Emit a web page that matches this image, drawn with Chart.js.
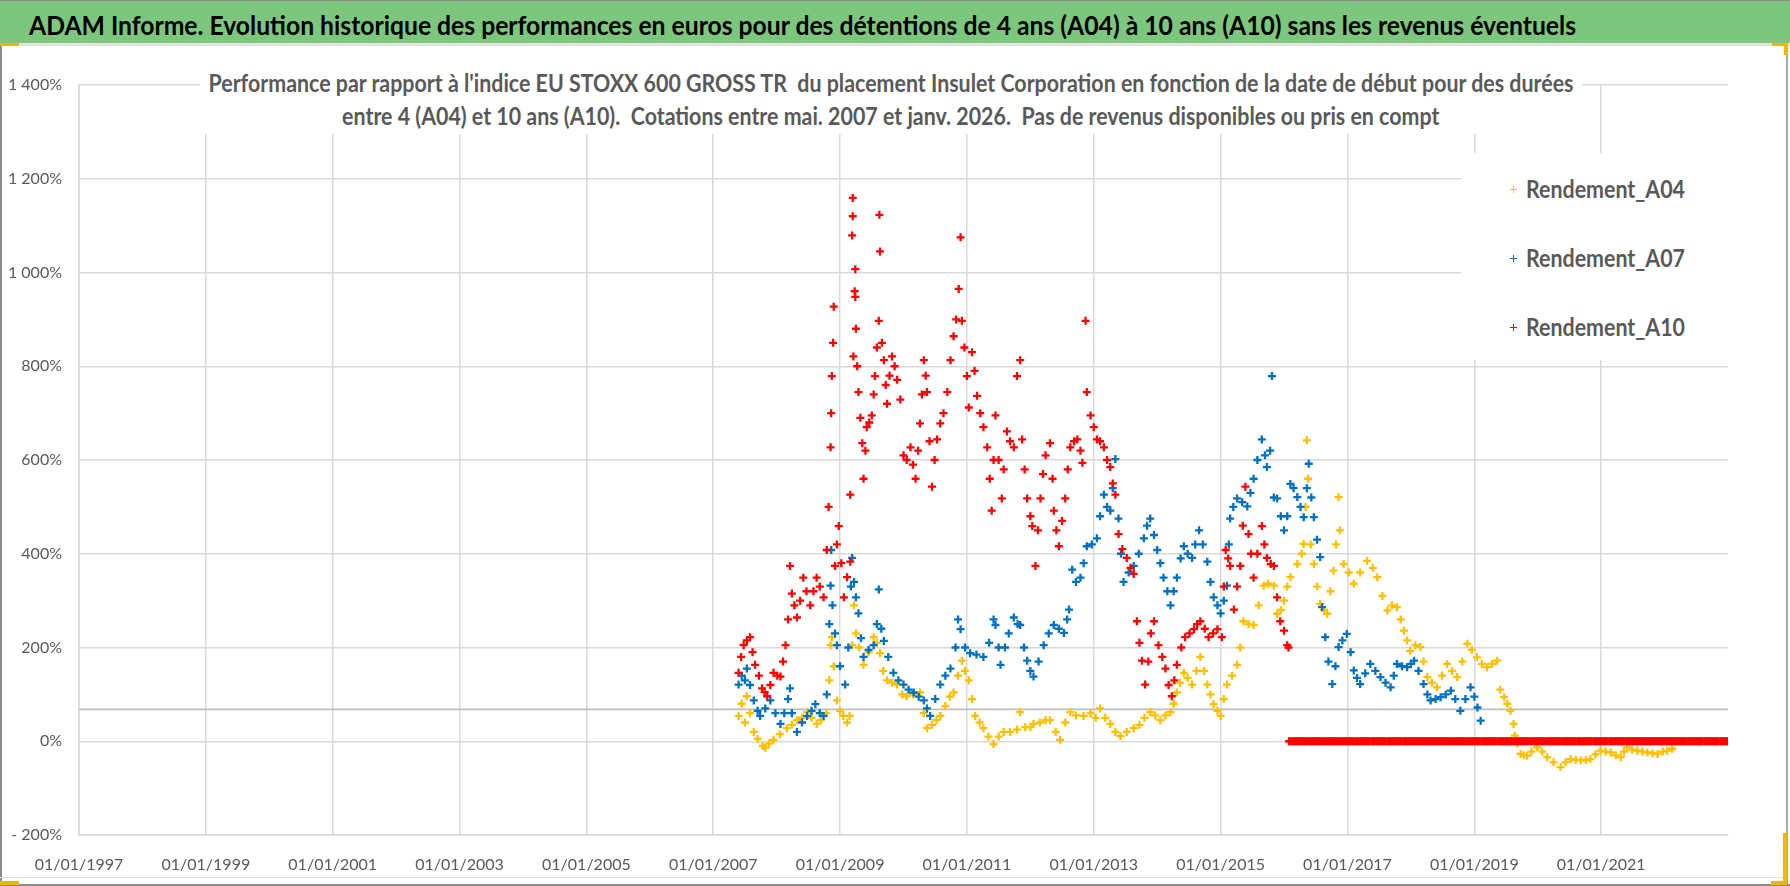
<!DOCTYPE html>
<html>
<head>
<meta charset="utf-8">
<script src="https://cdn.jsdelivr.net/npm/chart.js@4.4.1/dist/chart.umd.min.js"></script>
<style>
html,body{margin:0;padding:0;background:#fff;}
#page{position:relative;width:1790px;height:886px;overflow:hidden;background:#fff;font-family:Lato,"Open Sans",sans-serif;}
#chart{position:absolute;left:0;top:0;z-index:0;}
#header{position:absolute;left:0;top:0;width:1790px;height:43px;background:#7DC67D;border-top:1px solid #8c8c8c;box-sizing:border-box;z-index:3;}
#headerText{position:absolute;left:29px;top:2px;height:43px;line-height:43px;white-space:nowrap;font-weight:bold;font-size:27px;color:#000;transform-origin:left center;}
#sep{position:absolute;left:0;top:43px;width:1790px;height:3px;background:#e4e4e4;z-index:3;}
#frameL{position:absolute;left:0;top:43px;width:2px;height:843px;background:#8c8c8c;z-index:3;}
#frameR{position:absolute;left:1786px;top:43px;width:2px;height:843px;background:#a6a6a6;z-index:3;}
#frameB{position:absolute;left:0;top:884px;width:1790px;height:2px;background:#8c8c8c;z-index:3;}
#frameB2{position:absolute;left:0;top:877px;width:1786px;height:1px;background:#e0e0e0;z-index:3;}
.hdl{position:absolute;background:#F2B600;z-index:4;}
#subtitle{position:absolute;left:200px;top:47px;width:1382px;height:87px;background:#fff;z-index:2;}
.subline{position:absolute;white-space:nowrap;font-weight:bold;font-size:24px;height:30px;line-height:30px;color:#595959;transform-origin:center center;}
#legend{position:absolute;left:1461px;top:153px;width:300px;height:207px;background:#fff;z-index:2;}
.legItem{position:absolute;left:0;height:30px;width:300px;}
.legMark{position:absolute;left:49px;top:12px;width:7px;height:7px;}
.legMark:before{content:"";position:absolute;left:0;top:2.75px;width:7px;height:1.5px;background:var(--c);}
.legMark:after{content:"";position:absolute;left:2.75px;top:0;width:1.5px;height:7px;background:var(--c);}
.legText{position:absolute;left:65px;top:0;height:30px;line-height:30px;white-space:nowrap;font-weight:bold;font-size:24px;color:#595959;transform-origin:left center;}
</style>
</head>
<body>
<div id="page">
  <canvas id="chart" width="1790" height="886"></canvas>
  <div id="header"><span id="headerText">ADAM Informe. Evolution historique des performances en euros pour des détentions de 4 ans (A04) à 10 ans (A10) sans les revenus éventuels</span></div>
  <div id="sep"></div>
  <div id="frameL"></div><div id="frameR"></div><div id="frameB2"></div><div id="frameB"></div>
  <div class="hdl" style="left:0;top:43px;width:19px;height:3px"></div>
  <div class="hdl" style="left:1772px;top:43px;width:16px;height:3px"></div>
  <div class="hdl" style="left:1784px;top:43px;width:4px;height:12px"></div>
  <div class="hdl" style="left:0;top:881px;width:19px;height:4px"></div>
  <div class="hdl" style="left:1783px;top:833px;width:4px;height:52px"></div>
  <div class="hdl" style="left:1771px;top:881px;width:16px;height:4px"></div>
  <div id="subtitle">
    <span class="subline" id="sub1">Performance par rapport à l'indice EU STOXX 600 GROSS TR&nbsp; du placement Insulet Corporation en fonction de la date de début pour des durées</span>
    <span class="subline" id="sub2">entre 4 (A04) et 10 ans (A10).&nbsp; Cotations entre mai. 2007 et janv. 2026.&nbsp; Pas de revenus disponibles ou pris en compt</span>
  </div>
  <div id="legend"></div>
</div>
<script>
// ---------- Axis definitions ----------
const X_MIN = 1997;
const X_MAX = 2023;
const X_TICK_YEARS = [1997, 1999, 2001, 2003, 2005, 2007, 2009, 2011, 2013, 2015, 2017, 2019, 2021];
const X_TICK_LABELS = ['01/01/1997', '01/01/1999', '01/01/2001', '01/01/2003', '01/01/2005', '01/01/2007', '01/01/2009', '01/01/2011', '01/01/2013', '01/01/2015', '01/01/2017', '01/01/2019', '01/01/2021'];
const Y_TICK_VALUES = [-200, 0, 200, 400, 600, 800, 1000, 1200, 1400];
const Y_TICK_LABELS = ['- 200%', '0%', '200%', '400%', '600%', '800%', '1 000%', '1 200%', '1 400%'];

// ---------- Series ----------
const SERIES_NAMES = ['Rendement_A04', 'Rendement_A07', 'Rendement_A10'];
const SERIES_COLORS = ['#FFC000', '#0070C0', '#FF0000'];

const A04_DATES = [2007.40,2007.45,2007.50,2007.53,2007.58,2007.64,2007.70,2007.78,2007.82,2007.88,2007.95,2008.05,2008.16,2008.24,2008.32,2008.40,2008.48,2008.55,2008.63,2008.70,2008.78,2008.83,2008.85,2008.87,2008.90,2008.95,2009.00,2009.05,2009.11,2009.15,2009.19,2009.22,2009.25,2009.30,2009.37,2009.45,2009.53,2009.58,2009.63,2009.68,2009.74,2009.82,2009.90,2009.98,2010.05,2010.15,2010.26,2010.32,2010.37,2010.45,2010.52,2010.58,2010.66,2010.73,2010.79,2010.86,2010.92,2010.97,2011.03,2011.08,2011.13,2011.20,2011.26,2011.34,2011.42,2011.50,2011.58,2011.68,2011.79,2011.84,2011.92,2012.00,2012.05,2012.15,2012.24,2012.31,2012.40,2012.47,2012.55,2012.63,2012.72,2012.84,2012.95,2013.03,2013.10,2013.18,2013.26,2013.34,2013.42,2013.52,2013.63,2013.72,2013.80,2013.89,2013.97,2014.05,2014.13,2014.21,2014.26,2014.31,2014.36,2014.42,2014.48,2014.55,2014.62,2014.68,2014.74,2014.79,2014.84,2014.89,2014.95,2015.00,2015.05,2015.10,2015.18,2015.26,2015.31,2015.36,2015.44,2015.52,2015.60,2015.68,2015.75,2015.84,2015.89,2015.95,2016.00,2016.05,2016.10,2016.21,2016.28,2016.31,2016.34,2016.36,2016.38,2016.42,2016.47,2016.52,2016.57,2016.63,2016.68,2016.73,2016.78,2016.82,2016.86,2016.88,2016.94,2017.02,2017.10,2017.20,2017.31,2017.40,2017.47,2017.55,2017.63,2017.70,2017.78,2017.84,2017.89,2017.94,2017.99,2018.07,2018.15,2018.20,2018.26,2018.33,2018.41,2018.49,2018.57,2018.65,2018.73,2018.81,2018.89,2018.96,2019.04,2019.12,2019.20,2019.28,2019.36,2019.41,2019.47,2019.52,2019.57,2019.62,2019.64,2019.68,2019.73,2019.78,2019.83,2019.90,2019.99,2020.07,2020.15,2020.25,2020.36,2020.44,2020.52,2020.60,2020.68,2020.76,2020.83,2020.91,2020.99,2021.07,2021.15,2021.23,2021.31,2021.36,2021.41,2021.49,2021.57,2021.65,2021.73,2021.81,2021.89,2021.97,2022.04,2022.12];
const A04_VALUES = [54,80,40,96,60,20,5,-10,-14,-5,3,15,28,35,45,50,62,50,37,45,60,130,205,222,160,87,65,54,40,54,205,290,230,200,163,190,222,210,188,150,130,125,121,100,96,100,104,60,28,35,45,54,75,95,104,140,172,150,130,90,54,40,28,10,-6,10,20,20,25,62,30,30,37,40,45,45,20,3,40,62,55,54,60,50,70,50,37,20,11,20,28,35,50,62,55,45,55,62,80,104,125,146,135,121,150,180,150,121,100,79,65,54,90,121,140,163,200,256,250,248,290,332,336,332,272,280,300,330,350,378,400,421,500,642,560,420,378,330,293,280,272,320,364,420,521,450,378,360,336,360,385,370,350,310,279,290,286,260,236,215,193,205,201,170,137,125,115,140,165,150,137,170,208,195,179,165,158,165,172,110,94,80,65,37,12,-5,-27,-30,-31,-22,-13,-22,-34,-45,-55,-45,-38,-40,-41,-40,-38,-28,-20,-22,-24,-30,-34,-22,-13,-18,-20,-22,-24,-26,-27,-22,-20,-16];

const A07_DATES = [2007.40,2007.45,2007.50,2007.53,2007.58,2007.64,2007.70,2007.74,2007.82,2007.90,2007.98,2008.06,2008.12,2008.18,2008.21,2008.24,2008.32,2008.40,2008.48,2008.55,2008.61,2008.68,2008.74,2008.79,2008.83,2008.85,2008.86,2008.88,2008.92,2008.95,2009.00,2009.08,2009.13,2009.17,2009.19,2009.22,2009.25,2009.29,2009.33,2009.37,2009.45,2009.53,2009.58,2009.61,2009.65,2009.69,2009.76,2009.84,2009.92,2010.00,2010.08,2010.16,2010.24,2010.32,2010.37,2010.42,2010.50,2010.58,2010.66,2010.74,2010.82,2010.86,2010.90,2010.97,2011.05,2011.15,2011.26,2011.35,2011.42,2011.45,2011.50,2011.53,2011.60,2011.66,2011.74,2011.80,2011.84,2011.90,2011.95,2012.00,2012.05,2012.13,2012.21,2012.29,2012.37,2012.45,2012.53,2012.58,2012.61,2012.66,2012.72,2012.79,2012.84,2012.89,2012.97,2013.05,2013.10,2013.16,2013.21,2013.26,2013.30,2013.34,2013.39,2013.43,2013.47,2013.55,2013.63,2013.71,2013.79,2013.84,2013.89,2013.95,2014.00,2014.05,2014.10,2014.16,2014.21,2014.26,2014.31,2014.37,2014.42,2014.48,2014.55,2014.60,2014.66,2014.72,2014.79,2014.84,2014.89,2014.95,2015.00,2015.05,2015.10,2015.13,2015.15,2015.20,2015.26,2015.34,2015.42,2015.47,2015.52,2015.58,2015.65,2015.70,2015.73,2015.78,2015.81,2015.84,2015.89,2015.95,2016.00,2016.05,2016.10,2016.15,2016.21,2016.26,2016.31,2016.36,2016.39,2016.43,2016.47,2016.52,2016.57,2016.60,2016.65,2016.70,2016.76,2016.81,2016.86,2016.92,2016.99,2017.05,2017.10,2017.15,2017.20,2017.28,2017.36,2017.44,2017.52,2017.60,2017.68,2017.73,2017.78,2017.86,2017.94,2018.00,2018.05,2018.12,2018.20,2018.26,2018.31,2018.39,2018.47,2018.55,2018.63,2018.70,2018.78,2018.86,2018.94,2019.00,2019.05,2019.10];
const A07_VALUES = [121,140,130,155,120,87,65,54,70,87,60,37,60,90,113,60,20,40,54,65,79,60,54,100,250,332,408,290,230,205,160,121,200,330,391,340,307,273,220,180,195,205,250,324,240,214,180,146,130,121,110,104,95,87,70,54,90,121,140,155,200,260,239,200,188,185,180,210,260,248,200,163,200,230,264,250,248,200,172,150,138,170,205,230,248,240,231,260,281,366,340,349,380,416,420,433,480,526,500,492,540,602,475,400,340,360,374,400,433,460,475,440,408,380,349,320,290,320,349,390,416,400,391,420,450,420,383,340,307,290,273,300,332,420,475,500,518,510,501,530,560,600,644,610,585,620,779,520,518,480,450,480,549,540,521,500,478,540,592,520,478,430,393,286,222,170,122,160,201,215,229,190,151,135,122,145,165,150,137,125,115,140,165,160,158,165,172,150,122,100,87,90,94,100,108,90,65,90,115,95,72,44];

const A10_DATES = [2007.40,2007.44,2007.48,2007.53,2007.58,2007.62,2007.66,2007.72,2007.77,2007.81,2007.85,2007.90,2007.95,2008.01,2008.06,2008.10,2008.14,2008.18,2008.21,2008.24,2008.28,2008.32,2008.37,2008.42,2008.47,2008.53,2008.58,2008.63,2008.68,2008.74,2008.79,2008.82,2008.85,2008.86,2008.87,2008.89,2008.90,2008.92,2008.95,2008.98,2009.02,2009.06,2009.11,2009.16,2009.16,2009.19,2009.20,2009.20,2009.21,2009.23,2009.24,2009.24,2009.25,2009.27,2009.29,2009.32,2009.35,2009.37,2009.40,2009.42,2009.46,2009.50,2009.53,2009.55,2009.58,2009.61,2009.62,2009.63,2009.66,2009.69,2009.72,2009.74,2009.78,2009.82,2009.86,2009.90,2009.95,2010.00,2010.05,2010.11,2010.15,2010.19,2010.23,2010.26,2010.29,2010.32,2010.35,2010.37,2010.41,2010.45,2010.49,2010.53,2010.58,2010.63,2010.69,2010.74,2010.79,2010.83,2010.87,2010.90,2010.92,2010.96,2011.00,2011.03,2011.08,2011.12,2011.16,2011.21,2011.26,2011.32,2011.36,2011.39,2011.42,2011.45,2011.50,2011.55,2011.58,2011.63,2011.68,2011.74,2011.79,2011.84,2011.87,2011.91,2011.95,2012.00,2012.03,2012.08,2012.12,2012.16,2012.20,2012.24,2012.31,2012.35,2012.37,2012.41,2012.45,2012.50,2012.55,2012.59,2012.63,2012.69,2012.74,2012.79,2012.82,2012.87,2012.89,2012.95,2013.00,2013.05,2013.10,2013.16,2013.21,2013.26,2013.30,2013.34,2013.39,2013.45,2013.52,2013.58,2013.63,2013.68,2013.72,2013.76,2013.81,2013.86,2013.90,2013.95,2014.02,2014.08,2014.13,2014.18,2014.23,2014.27,2014.31,2014.38,2014.44,2014.51,2014.58,2014.63,2014.68,2014.75,2014.81,2014.88,2014.95,2015.02,2015.05,2015.08,2015.12,2015.15,2015.21,2015.26,2015.31,2015.35,2015.39,2015.44,2015.48,2015.52,2015.58,2015.65,2015.69,2015.73,2015.79,2015.84,2015.89,2015.94,2016.00,2016.05,2016.07,
2016.08,2016.10,2016.13,2016.15,2016.17,2016.19,2016.21,2016.23,2016.25,2016.27,2016.29,2016.31,2016.33,2016.35,2016.38,2016.40,2016.42,2016.44,2016.46,2016.48,2016.50,2016.52,2016.54,2016.56,2016.58,2016.60,2016.63,2016.65,2016.67,2016.69,2016.71,2016.73,2016.75,2016.77,2016.79,2016.81,2016.83,2016.85,2016.88,2016.90,2016.92,2016.94,2016.96,2016.98,
2017.00,2017.04,2017.08,2017.13,2017.17,2017.21,2017.25,2017.29,2017.33,2017.38,2017.42,2017.46,2017.50,2017.54,2017.58,2017.63,2017.67,2017.71,2017.75,2017.79,2017.83,2017.88,2017.92,2017.96,
2017.02,2017.06,2017.10,2017.15,2017.19,2017.23,2017.27,2017.31,2017.35,2017.40,2017.44,2017.48,2017.52,2017.56,2017.60,2017.65,2017.69,2017.73,2017.77,2017.81,2017.85,2017.90,2017.94,2017.98,
2018.00,2018.04,2018.08,2018.13,2018.17,2018.21,2018.25,2018.29,2018.33,2018.38,2018.42,2018.46,2018.50,2018.54,2018.58,2018.63,2018.67,2018.71,2018.75,2018.79,2018.83,2018.88,2018.92,2018.96,
2018.02,2018.06,2018.10,2018.15,2018.19,2018.23,2018.27,2018.31,2018.35,2018.40,2018.44,2018.48,2018.52,2018.56,2018.60,2018.65,2018.69,2018.73,2018.77,2018.81,2018.85,2018.90,2018.94,2018.98,
2019.00,2019.04,2019.08,2019.13,2019.17,2019.21,2019.25,2019.29,2019.33,2019.38,2019.42,2019.46,2019.50,2019.54,2019.58,2019.63,2019.67,2019.71,2019.75,2019.79,2019.83,2019.88,2019.92,2019.96,
2019.02,2019.06,2019.10,2019.15,2019.19,2019.23,2019.27,2019.31,2019.35,2019.40,2019.44,2019.48,2019.52,2019.56,2019.60,2019.65,2019.69,2019.73,2019.77,2019.81,2019.85,2019.90,2019.94,2019.98,
2020.00,2020.04,2020.08,2020.13,2020.17,2020.21,2020.25,2020.29,2020.33,2020.38,2020.42,2020.46,2020.50,2020.54,2020.58,2020.63,2020.67,2020.71,2020.75,2020.79,2020.83,2020.88,2020.92,2020.96,
2020.02,2020.06,2020.10,2020.15,2020.19,2020.23,2020.27,2020.31,2020.35,2020.40,2020.44,2020.48,2020.52,2020.56,2020.60,2020.65,2020.69,2020.73,2020.77,2020.81,2020.85,2020.90,2020.94,2020.98,
2021.00,2021.04,2021.08,2021.13,2021.17,2021.21,2021.25,2021.29,2021.33,2021.38,2021.42,2021.46,2021.50,2021.54,2021.58,2021.63,2021.67,2021.71,2021.75,2021.79,2021.83,2021.88,2021.92,2021.96,
2021.02,2021.06,2021.10,2021.15,2021.19,2021.23,2021.27,2021.31,2021.35,2021.40,2021.44,2021.48,2021.52,2021.56,2021.60,2021.65,2021.69,2021.73,2021.77,2021.81,2021.85,2021.90,2021.94,2021.98,
2022.00,2022.04,2022.08,2022.13,2022.17,2022.21,2022.25,2022.29,2022.33,2022.38,2022.42,2022.46,2022.50,2022.54,2022.58,2022.63,2022.67,2022.71,2022.75,2022.79,2022.83,2022.88,2022.92,2022.96,
2022.02,2022.06,2022.10,2022.15,2022.19,2022.23,2022.27,2022.31,2022.35,2022.40,2022.44,2022.48,2022.52,2022.56,2022.60,2022.65,2022.69,2022.73,2022.77,2022.81,2022.85,2022.90,2022.94,2022.98,
2023.00];
const A10_VALUES = [146,180,205,215,222,190,163,140,113,105,96,120,146,140,138,170,205,260,374,315,290,264,300,349,320,290,320,349,330,307,408,500,627,700,779,850,927,374,420,459,380,307,350,383,526,1079,1120,1159,821,960,1007,948,880,800,745,690,636,560,620,670,680,695,740,779,840,897,1123,1045,850,813,760,720,780,821,800,771,729,610,600,627,590,560,620,678,740,813,780,745,640,543,600,644,678,700,745,813,864,900,965,1075,897,840,779,712,830,790,737,700,670,627,560,492,600,695,600,518,580,661,640,627,779,813,644,580,518,480,459,374,450,518,570,610,636,560,492,450,416,470,518,580,627,640,644,620,594,897,745,695,670,644,640,627,600,585,550,526,442,410,391,370,357,256,210,172,121,170,230,256,205,180,155,120,96,130,163,200,222,230,239,250,256,240,222,230,239,222,330,408,390,374,281,330,374,460,543,442,400,349,400,459,420,391,378,374,307,256,236,205,200,
0,0,0,0,0,0,0,0,0,0,0,0,0,0,0,0,0,0,0,0,0,0,0,0,0,0,0,0,0,0,0,0,0,0,0,0,0,0,0,0,0,0,0,0,
0,0,0,0,0,0,0,0,0,0,0,0,0,0,0,0,0,0,0,0,0,0,0,0,
0,0,0,0,0,0,0,0,0,0,0,0,0,0,0,0,0,0,0,0,0,0,0,0,
0,0,0,0,0,0,0,0,0,0,0,0,0,0,0,0,0,0,0,0,0,0,0,0,
0,0,0,0,0,0,0,0,0,0,0,0,0,0,0,0,0,0,0,0,0,0,0,0,
0,0,0,0,0,0,0,0,0,0,0,0,0,0,0,0,0,0,0,0,0,0,0,0,
0,0,0,0,0,0,0,0,0,0,0,0,0,0,0,0,0,0,0,0,0,0,0,0,
0,0,0,0,0,0,0,0,0,0,0,0,0,0,0,0,0,0,0,0,0,0,0,0,
0,0,0,0,0,0,0,0,0,0,0,0,0,0,0,0,0,0,0,0,0,0,0,0,
0,0,0,0,0,0,0,0,0,0,0,0,0,0,0,0,0,0,0,0,0,0,0,0,
0,0,0,0,0,0,0,0,0,0,0,0,0,0,0,0,0,0,0,0,0,0,0,0,
0,0,0,0,0,0,0,0,0,0,0,0,0,0,0,0,0,0,0,0,0,0,0,0,
0,0,0,0,0,0,0,0,0,0,0,0,0,0,0,0,0,0,0,0,0,0,0,0,
0,0,0,0,0,0,0,0,0,0,0,0,0,0,0,0,0,0,0,0,0,0,0,0,
0];

// horizontal reference line drawn across the plot
const REF_LINE_DATES = [1997, 2023];
const REF_LINE_VALUES = [68, 68];

// ---------- Build chart ----------
const toPoints = (xs, ys) => xs.map((x, i) => ({ x: x, y: ys[i] }));
const seriesData = [
  toPoints(A04_DATES, A04_VALUES),
  toPoints(A07_DATES, A07_VALUES),
  toPoints(A10_DATES, A10_VALUES)
];

Chart.defaults.font.family = 'Lato, "Open Sans", sans-serif';
Chart.defaults.font.size = 16;
Chart.defaults.color = '#595959';

const GRID = '#D9D9D9';
const datasets = SERIES_NAMES.map((name, i) => ({
  label: name,
  data: seriesData[i],
  showLine: false,
  pointStyle: 'cross',
  pointRadius: 4,
  pointHoverRadius: 4,
  pointBorderWidth: 2.3,
  borderColor: SERIES_COLORS[i],
  backgroundColor: SERIES_COLORS[i],
  order: 3 - i
}));
datasets.push({
  label: 'ref',
  data: toPoints(REF_LINE_DATES, REF_LINE_VALUES),
  showLine: true,
  pointRadius: 0,
  borderColor: '#BEBEBE',
  borderWidth: 1.6,
  order: 10
});

const chart = new Chart(document.getElementById('chart'), {
  type: 'scatter',
  data: { datasets: datasets },
  options: {
    responsive: false,
    animation: false,
    events: [],
    layout: { padding: { left: 0, right: 62, top: 85, bottom: 0 } },
    plugins: { legend: { display: false }, tooltip: { enabled: false }, title: { display: false } },
    scales: {
      x: {
        type: 'linear',
        min: X_MIN,
        max: X_MAX,
        afterBuildTicks: (s) => { s.ticks = X_TICK_YEARS.map(v => ({ value: v })); },
        afterFit: (s) => { s.height = 51; },
        ticks: {
          autoSkip: false,
          maxRotation: 0,
          padding: 20,
          color: '#595959',
          font: { size: 16 },
          callback: (v) => { const k = X_TICK_YEARS.indexOf(v); return k >= 0 ? X_TICK_LABELS[k] : ''; }
        },
        grid: { color: GRID, lineWidth: 1.5, drawTicks: false },
        border: { color: GRID, width: 1.5 }
      },
      y: {
        min: -200,
        max: 1400,
        afterFit: (s) => { s.width = 79; },
        ticks: {
          stepSize: 200,
          padding: 17,
          color: '#595959',
          font: { size: 16 },
          callback: (v) => { const k = Y_TICK_VALUES.indexOf(v); return k >= 0 ? Y_TICK_LABELS[k] : ''; }
        },
        grid: { color: GRID, lineWidth: 1.5, drawTicks: false },
        border: { color: GRID, width: 1.5 }
      }
    }
  }
});

// ---------- HTML legend ----------
const legend = document.getElementById('legend');
const LEGEND_CENTERS = [36, 105, 174];
SERIES_NAMES.forEach((name, i) => {
  const item = document.createElement('div');
  item.className = 'legItem';
  item.style.top = (LEGEND_CENTERS[i] - 15) + 'px';
  const mk = document.createElement('span');
  mk.className = 'legMark';
  mk.style.setProperty('--c', SERIES_COLORS[i]);
  const tx = document.createElement('span');
  tx.className = 'legText';
  tx.textContent = name;
  item.appendChild(mk); item.appendChild(tx);
  legend.appendChild(item);
});

// ---------- Fit text widths to the reference ----------
function naturalWidth(el) { el.style.transform = 'none'; return el.getBoundingClientRect().width; }
function layoutTexts() {
  const h = document.getElementById('headerText');
  const hw = naturalWidth(h);
  h.style.transform = 'scaleX(' + (1547 / hw) + ')';

  const s1 = document.getElementById('sub1');
  const s2 = document.getElementById('sub2');
  const w1 = naturalWidth(s1);
  const w2 = naturalWidth(s2);
  const sc = 1365 / w1;
  s1.style.left = (691 - w1 / 2) + 'px'; s1.style.top = (83 - 47 - 15) + 'px';
  s2.style.left = (691 - w2 / 2) + 'px'; s2.style.top = (116 - 47 - 15) + 'px';
  s1.style.transform = 'scaleX(' + sc + ')';
  s2.style.transform = 'scaleX(' + sc + ')';

  document.querySelectorAll('.legText').forEach(t => {
    const w = naturalWidth(t);
    t.style.transform = 'scaleX(' + (159 / w) + ')';
  });
}
layoutTexts();
if (document.fonts && document.fonts.ready) {
  document.fonts.ready.then(() => { layoutTexts(); chart.update('none'); });
}
</script>
</body>
</html>
